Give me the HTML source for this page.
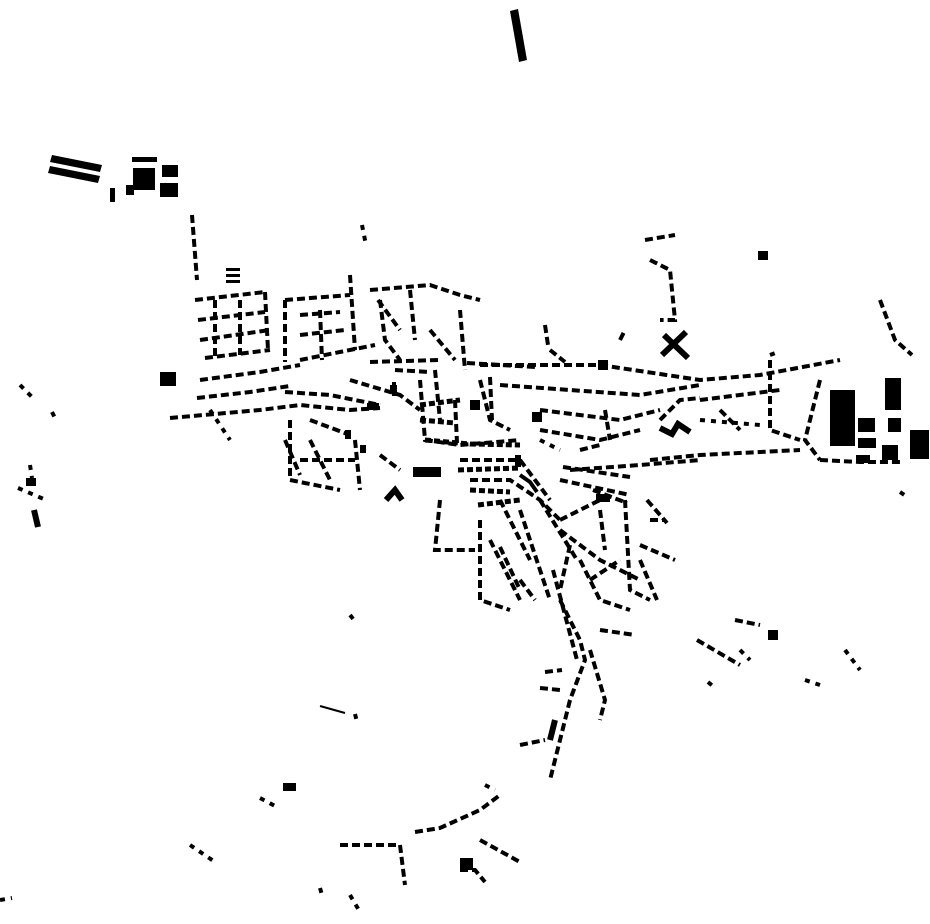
<!DOCTYPE html>
<html><head><meta charset="utf-8"><style>
html,body{margin:0;padding:0;background:#fff;}
svg{display:block}
.d{fill:none;stroke:#000;stroke-width:4;stroke-dasharray:8 4}
.h{fill:none;stroke:#000;stroke-width:5;stroke-dasharray:6 3}
.e{fill:none;stroke:#000;stroke-width:4;stroke-dasharray:5 6}
.s{fill:none;stroke:#000;stroke-width:6}
</style></head><body>
<svg width="930" height="924" viewBox="0 0 930 924" xmlns="http://www.w3.org/2000/svg">
<g fill="#000">
<polygon points="510,11 518,9 527,60 519,62"/>
<polygon points="52,155 102,165 100,172 50,162"/>
<polygon points="50,166 100,176 98,183 48,173"/>
<rect x="133" y="168" width="22" height="22"/><rect x="162" y="165" width="16" height="12"/>
<rect x="160" y="183" width="18" height="14"/><rect x="126" y="185" width="8" height="10"/>
<rect x="132" y="157" width="25" height="5"/><rect x="110" y="188" width="5" height="14"/>
<rect x="160" y="372" width="16" height="14"/>
<rect x="226" y="268" width="14" height="3"/><rect x="226" y="274" width="14" height="3"/><rect x="226" y="280" width="14" height="3"/>
<rect x="413" y="467" width="28" height="10"/>
<rect x="758" y="251" width="10" height="9"/>
<rect x="830" y="390" width="25" height="56"/>
<rect x="885" y="378" width="16" height="32"/>
<rect x="910" y="430" width="19" height="29"/>
<rect x="858" y="418" width="17" height="14"/>
<rect x="858" y="438" width="18" height="10"/>
<rect x="882" y="445" width="16" height="15"/>
<rect x="888" y="418" width="13" height="14"/>
<rect x="856" y="455" width="14" height="8"/>
<rect x="283" y="783" width="13" height="8"/>
<rect x="460" y="858" width="13" height="12"/>
<rect x="768" y="630" width="10" height="10"/>
<rect x="26" y="478" width="10" height="8"/>
<rect x="470" y="400" width="10" height="10"/>
<rect x="598" y="360" width="10" height="10"/>
<rect x="596" y="494" width="14" height="8"/>
<rect x="390" y="385" width="7" height="8"/><rect x="392" y="382" width="4" height="14"/>
<rect x="367" y="403" width="12" height="7"/>
<rect x="360" y="445" width="6" height="8"/><rect x="345" y="430" width="6" height="9"/>
<rect x="532" y="412" width="10" height="10"/>
<rect x="515" y="455" width="6" height="12"/>
</g>
<g class="s">
<line x1="664" y1="335" x2="688" y2="358"/><line x1="686" y1="332" x2="662" y2="355"/>
<polyline points="660,428 672,434 678,424 690,432"/>
<line x1="34" y1="510" x2="38" y2="527"/>
<line x1="320" y1="706" x2="345" y2="713" style="stroke-width:2"/>
<line x1="550" y1="740" x2="555" y2="720"/>
<polyline points="386,500 395,490 402,500"/>
<polyline points="520,475 530,482 537,492" style="stroke-width:4"/>
</g>
<g class="d">
<polyline points="192,215 197,280"/>
<polyline points="170,418 260,410 300,405 350,410 380,408"/>
<polyline points="197,398 250,392 290,386"/>
<polyline points="200,380 260,372 300,365"/>
<polyline points="195,300 265,292"/><polyline points="198,320 265,312"/><polyline points="200,340 270,330"/><polyline points="205,358 270,350"/>
<polyline points="215,300 215,360"/><polyline points="240,300 240,355"/><polyline points="265,292 268,350"/>
<polyline points="285,300 350,295"/><polyline points="285,300 285,362"/>
<polyline points="300,360 375,345"/><polyline points="300,335 345,330"/><polyline points="300,315 340,312"/><polyline points="320,310 322,360"/>
<polyline points="350,275 355,350"/>
<polyline points="370,290 430,285 460,295 480,300"/>
<polyline points="378,300 400,330"/><polyline points="410,290 415,340"/>
<polyline points="460,310 465,370"/>
<polyline points="430,330 455,360"/>
<polyline points="370,362 440,360"/>
<polyline points="350,380 400,395 420,410"/>
<polyline points="480,365 600,365 700,380 760,375 840,360"/>
<polyline points="500,385 640,395 700,385"/>
<polyline points="480,380 490,420 510,430"/>
<polyline points="420,380 425,440 460,445 520,440"/>
<polyline points="435,370 440,420"/>
<polyline points="290,420 290,480 340,490"/>
<polyline points="310,420 350,435"/>
<polyline points="300,460 355,460"/>
<polyline points="355,440 360,490"/>
<polyline points="380,455 400,470"/>
<polyline points="460,460 520,460 550,500"/>
<polyline points="440,500 435,550 475,550"/>
<polyline points="470,480 510,480 540,500 560,520"/>
<polyline points="480,520 480,600 510,610"/>
<polyline points="490,540 520,600"/>
<polyline points="520,510 550,600"/>
<polyline points="500,500 530,560"/>
<polyline points="560,480 630,495"/>
<polyline points="560,530 600,560 640,580"/>
<polyline points="580,560 600,600 630,610"/>
<polyline points="625,500 630,590 650,600"/>
<polyline points="640,545 675,560"/>
<polyline points="650,520 665,520"/>
<polyline points="560,600 580,640 585,660 570,700 550,780"/>
<polyline points="545,672 562,670"/><polyline points="540,688 560,690"/>
<polyline points="590,650 605,700 600,720"/>
<polyline points="520,745 545,740"/>
<polyline points="600,630 635,635"/>
<polyline points="540,410 620,420 660,410"/>
<polyline points="540,430 600,440 640,430"/>
<polyline points="570,470 640,465 700,460"/>
<polyline points="650,460 700,455 800,450"/>
<polyline points="700,400 780,390"/>
<polyline points="660,420 680,400 700,398"/>
<polyline points="770,360 770,430 800,440"/>
<polyline points="820,380 805,440 820,460"/>
<polyline points="820,460 860,462 900,462"/>
<polyline points="645,240 675,235"/>
<polyline points="650,260 670,270 675,320 660,320"/>
<polyline points="880,300 895,340 912,355"/>
<polyline points="415,832 440,828 480,810 500,795"/>
<polyline points="340,845 400,845 405,885"/>
<polyline points="460,870 475,870 485,882"/>
<polyline points="480,840 520,862"/>
<polyline points="697,640 740,665"/>
<polyline points="735,620 760,625"/>
<polyline points="620,340 625,330"/><polyline points="550,350 565,362"/>
<polyline points="580,450 600,445"/>
<!-- extra density -->
<polyline points="467,363 535,367"/>
<polyline points="490,377 492,420"/>
<polyline points="285,392 330,395 380,405"/>
<polyline points="455,400 457,443"/>
<polyline points="540,500 577,560"/>
<polyline points="563,467 630,477"/>
<polyline points="593,490 627,503"/>
<polyline points="640,560 657,600"/>
<polyline points="647,500 667,523"/>
<polyline points="553,570 577,660"/>
<polyline points="500,547 520,590"/>
<polyline points="560,520 600,500"/>
<polyline points="590,580 620,560"/>
<polyline points="310,440 330,480"/>
<polyline points="285,440 300,475"/>
<polyline points="380,300 385,340 400,360"/>
<polyline points="395,370 430,372"/>
<polyline points="600,510 605,550"/>
<polyline points="570,545 560,590"/>
<polyline points="520,580 535,600"/>
<polyline points="545,325 548,345"/>
<polyline points="605,410 610,440"/>
<polyline points="720,410 740,430"/>
</g>
<g class="h">
<polyline points="425,440 470,444 520,445"/>
<polyline points="420,405 460,400"/>
<polyline points="420,420 455,423"/>
<polyline points="458,470 520,468"/>
<polyline points="470,490 510,492"/>
<polyline points="478,505 520,500"/>
</g>
<g class="e">
<polyline points="20,385 35,400"/><polyline points="18,488 46,500"/>
<polyline points="30,465 32,478"/>
<polyline points="362,225 366,245"/>
<polyline points="190,845 215,862"/>
<polyline points="260,798 275,806"/>
<polyline points="845,650 860,670"/>
<polyline points="805,680 820,685"/>
<polyline points="708,682 715,688"/>
<polyline points="350,895 360,912"/>
<polyline points="320,888 322,895"/>
<polyline points="485,785 495,790"/>
<polyline points="355,714 357,722"/>
<polyline points="900,492 906,496"/>
<polyline points="0,900 12,898"/>
<polyline points="52,412 55,418"/>
<polyline points="350,615 354,620"/>
<polyline points="740,650 750,660"/>
<polyline points="770,355 778,352"/>
<polyline points="210,410 230,440"/>
<polyline points="540,440 560,450"/>
<polyline points="700,420 760,425"/>
</g>
</svg>
</body></html>
